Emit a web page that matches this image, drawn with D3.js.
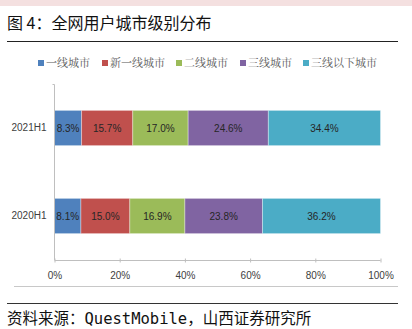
<!DOCTYPE html>
<html>
<head>
<meta charset="utf-8">
<script src="https://cdn.jsdelivr.net/npm/d3@7"></script>
<style>
  html, body { margin: 0; padding: 0; background: #fff; }
  svg { display: block; }
</style>
</head>
<body>
<svg id="chart" width="412" height="329"></svg>
<script>
// Periods (top to bottom) and city-tier series, values in percent
const periods = ["2021H1", "2020H1"];
const tiers = ["一线城市", "新一线城市", "二线城市", "三线城市", "三线以下城市"];
const tierColors = ["#4f81bd", "#c0504d", "#9bbb59", "#8064a2", "#4bacc6"];
const share2021H1 = [8.3, 15.7, 17.0, 24.6, 34.4];
const share2020H1 = [8.1, 15.0, 16.9, 23.8, 36.2];
const xTicks = [0, 20, 40, 60, 80, 100];

const values = { "2021H1": share2021H1, "2020H1": share2020H1 };

// Build stacked rows
const rows = periods.map(p => {
  const r = { period: p };
  tiers.forEach((t, i) => { r[t] = values[p][i]; });
  return r;
});
const stacked = d3.stack().keys(tiers)(rows);

const svg = d3.select("#chart");

// Header band and title
svg.append("rect").attr("x", 0).attr("y", 0).attr("width", 412).attr("height", 6).attr("fill", "#f4e0e0");
svg.append("text")
  .attr("x", 7).attr("y", 29)
  .attr("font-family", "'Noto Sans CJK SC', sans-serif")
  .attr("font-size", 16).attr("fill", "#111")
  .text("图 4：全网用户城市级别分布");
svg.append("line").attr("x1", 7).attr("x2", 398).attr("y1", 41.5).attr("y2", 41.5)
  .attr("stroke", "#222").attr("stroke-width", 1);

// Scales
const x = d3.scaleLinear().domain([0, 100]).range([54.5, 380.5]);
const y = d3.scaleBand().domain(periods).range([84, 260]).paddingInner(0.6).paddingOuter(0.3);

// Legend
const legendX = [38, 102, 176, 240, 303];
const legend = svg.append("g");
tiers.forEach((t, i) => {
  const g = legend.append("g").attr("transform", `translate(${legendX[i]},63)`);
  g.append("rect").attr("x", 0).attr("y", -3).attr("width", 6).attr("height", 6).attr("fill", tierColors[i]);
  g.append("text").attr("x", 8).attr("y", 0).attr("dy", "0.35em")
    .attr("font-family", "'Noto Serif CJK SC', 'Noto Sans CJK SC', serif")
    .attr("font-size", 11).attr("fill", "#595959").text(t);
});

// Bars
const layer = svg.append("g");
stacked.forEach((s, i) => {
  layer.selectAll(null).data(s).enter().append("rect")
    .attr("x", d => x(d[0]))
    .attr("y", d => y(d.data.period))
    .attr("width", d => x(d[1]) - x(d[0]))
    .attr("height", y.bandwidth())
    .attr("fill", tierColors[i])
    .attr("stroke", "rgba(255,255,255,0.35)")
    .attr("stroke-width", 1);
  layer.selectAll(null).data(s).enter().append("text")
    .attr("x", d => (x(d[0]) + x(d[1])) / 2)
    .attr("y", d => y(d.data.period) + y.bandwidth() / 2)
    .attr("dy", "0.35em")
    .attr("text-anchor", "middle")
    .attr("font-family", "'Liberation Sans', Arial, sans-serif")
    .attr("font-size", 10).attr("fill", "#262626")
    .text(d => (d[1] - d[0]).toFixed(1) + "%");
});

// Y axis
const yAxis = svg.append("g").attr("transform", "translate(54.5,0)")
  .call(d3.axisLeft(y).tickSize(0).tickPadding(8));
yAxis.select(".domain").attr("stroke", "#bfbfbf").attr("d", "M-2,84.5H0V260");
yAxis.selectAll("text")
  .attr("font-family", "'Liberation Sans', Arial, sans-serif")
  .attr("font-size", 10).attr("fill", "#404040");

// X axis
const xAxis = svg.append("g").attr("transform", "translate(0,260.5)")
  .call(d3.axisBottom(x).tickValues(xTicks).tickFormat(d => d + "%").tickSize(3).tickPadding(8));
xAxis.select(".domain").attr("stroke", "#bfbfbf").attr("d", "M54.5,0H380.5");
xAxis.selectAll("line").attr("stroke", "#bfbfbf").attr("y1", -2).attr("y2", 2);
xAxis.selectAll("text")
  .attr("font-family", "'Liberation Sans', Arial, sans-serif")
  .attr("font-size", 10).attr("fill", "#404040");

// Bottom rules and source note
svg.append("line").attr("x1", 14).attr("x2", 398).attr("y1", 286.5).attr("y2", 286.5)
  .attr("stroke", "#c8c8c8").attr("stroke-width", 1);
svg.append("line").attr("x1", 7).attr("x2", 398).attr("y1", 303.5).attr("y2", 303.5)
  .attr("stroke", "#333").attr("stroke-width", 1.2);
svg.append("text")
  .attr("x", 7).attr("y", 324)
  .attr("font-family", "'DejaVu Sans Mono', 'Noto Sans CJK SC', monospace")
  .attr("font-size", 15.5).attr("fill", "#111")
  .text("资料来源：QuestMobile，山西证券研究所");
</script>
</body>
</html>
